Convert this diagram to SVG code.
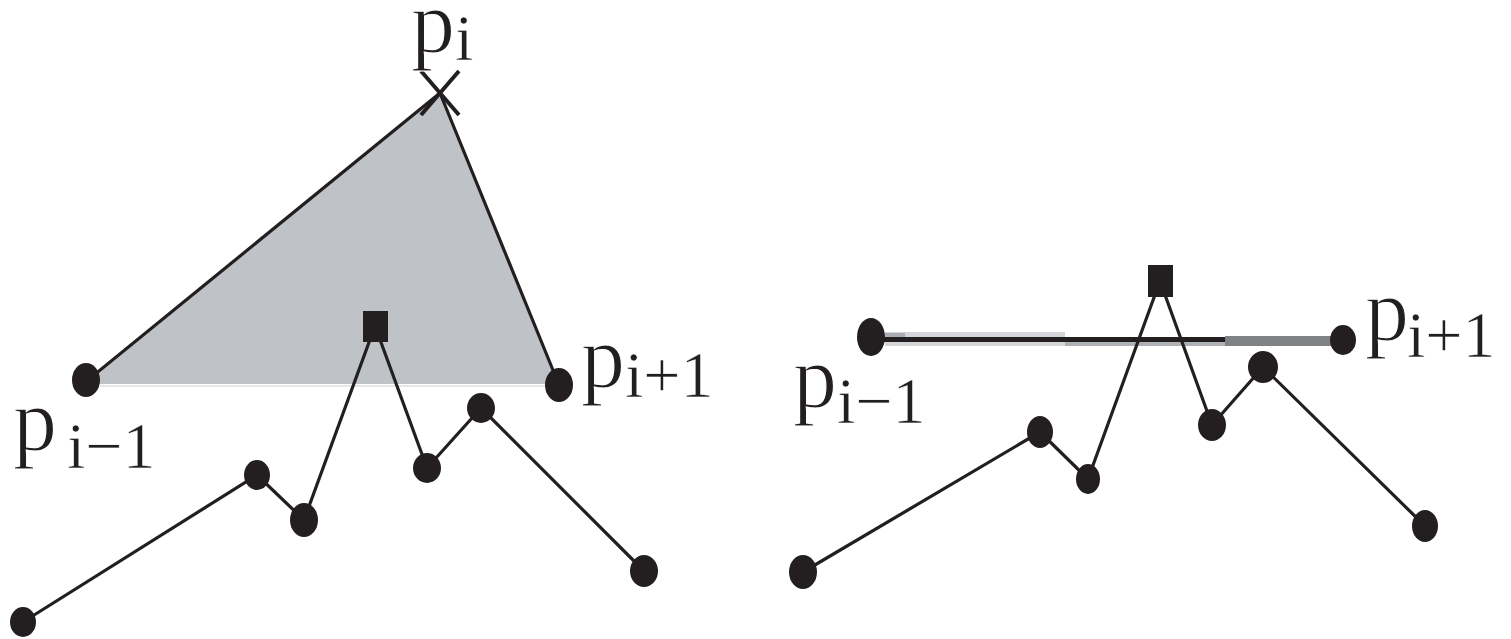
<svg xmlns="http://www.w3.org/2000/svg" width="1511" height="639" viewBox="0 0 1511 639">
  <style>
    .edge { fill: none; stroke: #231f20; stroke-width: 3.2; stroke-linejoin: round; stroke-linecap: round; }
    .dot { fill: #231f20; }
    .sq { fill: #231f20; }
    .lbl { font-family: "Liberation Serif", "Times New Roman", serif; font-size: 88px; fill: #231f20; stroke: #ffffff; stroke-width: 1.2px; }
    .sub { font-size: 66px; stroke-width: 0.6px; }
  </style>
  <rect width="1511" height="639" fill="#ffffff"/>

  <!-- shaded triangle region -->
  <g id="region">
    <polygon points="86,384 440,93 557,384" fill="#bfc2c7"/>
    <line x1="100" y1="386" x2="545" y2="386" stroke="#e6e7ea" stroke-width="2"/>
  </g>

  <!-- connectors -->
  <g id="connectors">
    <path class="edge" d="M 88,380 L 440,93 L 557,380"/>
    <path class="edge" d="M 23,622 L 257,475 L 304,520 L 375,326 L 427,468 L 481,408 L 644,571"/>
    <g id="chord">
      <rect x="885" y="332" width="180" height="14" fill="#d3d5d9"/>
      <rect x="885" y="333" width="20" height="4" fill="#a9acb0"/>
      <rect x="1065" y="338" width="160" height="8" fill="#aeb1b5"/>
      <rect x="880" y="337" width="345" height="5" fill="#231f20"/>
      <rect x="1225" y="336" width="110" height="10" fill="#7e8285"/>
    </g>
    <path class="edge" d="M 803,572 L 1040,432 L 1088,479 L 1160,281 L 1212,425 L 1263,367 L 1425,526"/>
  </g>

  <!-- left figure nodes -->
  <g id="node-pi">
    <path d="M 421,71 L 459,115 M 459,71 L 421,115" stroke="#231f20" stroke-width="4" fill="none"/>
    <text class="lbl" x="411" y="52">p<tspan class="sub" x="455" y="60">i</tspan></text>
  </g>
  <g id="node-pim1-left">
    <ellipse class="dot" cx="86" cy="380" rx="14" ry="17"/>
    <text class="lbl" x="13" y="450">p<tspan class="sub" x="67" y="468">i−1</tspan></text>
  </g>
  <g id="node-pip1-left">
    <ellipse class="dot" cx="559" cy="385" rx="14" ry="17"/>
    <text class="lbl" x="581" y="387">p<tspan class="sub" x="625" y="397">i+1</tspan></text>
  </g>
  <g id="node-l1"><ellipse class="dot" cx="23" cy="622" rx="13" ry="15"/></g>
  <g id="node-l2"><ellipse class="dot" cx="257" cy="475" rx="13" ry="15"/></g>
  <g id="node-l3"><ellipse class="dot" cx="304" cy="520" rx="14" ry="17"/></g>
  <g id="node-l4"><rect class="sq" x="363" y="311" width="25" height="31"/></g>
  <g id="node-l5"><ellipse class="dot" cx="427" cy="468" rx="14" ry="15"/></g>
  <g id="node-l6"><ellipse class="dot" cx="481" cy="408" rx="14" ry="15"/></g>
  <g id="node-l7"><ellipse class="dot" cx="644" cy="571" rx="14" ry="16"/></g>

  <!-- right figure nodes -->
  <g id="node-pim1-right">
    <ellipse class="dot" cx="871" cy="337" rx="14" ry="19"/>
    <text class="lbl" x="793" y="407">p<tspan class="sub" x="837" y="423">i−1</tspan></text>
  </g>
  <g id="node-pip1-right">
    <ellipse class="dot" cx="1343" cy="340" rx="13" ry="15"/>
    <text class="lbl" x="1365" y="340">p<tspan class="sub" x="1407" y="357">i+1</tspan></text>
  </g>
  <g id="node-r1"><ellipse class="dot" cx="803" cy="572" rx="14" ry="17"/></g>
  <g id="node-r2"><ellipse class="dot" cx="1040" cy="432" rx="13" ry="16"/></g>
  <g id="node-r3"><ellipse class="dot" cx="1088" cy="479" rx="12" ry="15"/></g>
  <g id="node-r4"><rect class="sq" x="1148" y="265" width="25" height="32"/></g>
  <g id="node-r5"><ellipse class="dot" cx="1212" cy="425" rx="14" ry="16"/></g>
  <g id="node-r6"><ellipse class="dot" cx="1263" cy="367" rx="15" ry="16"/></g>
  <g id="node-r7"><ellipse class="dot" cx="1425" cy="526" rx="13" ry="16"/></g>
</svg>
